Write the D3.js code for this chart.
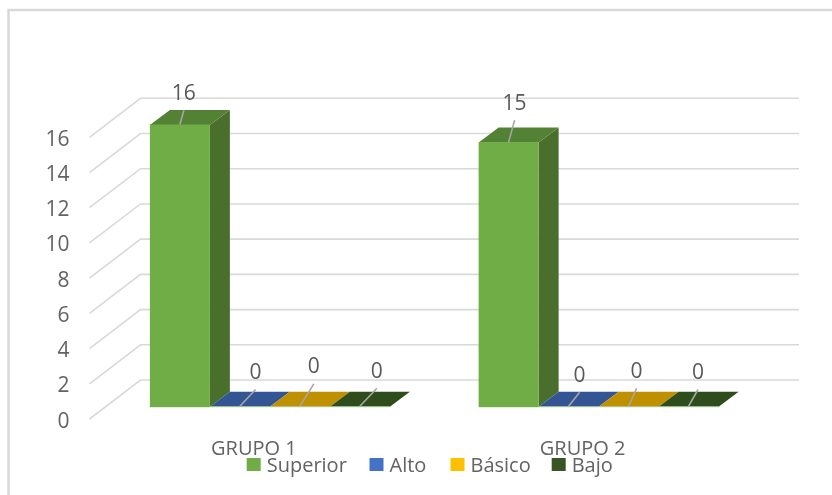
<!DOCTYPE html>
<html>
<head>
<meta charset="utf-8">
<script src="https://cdnjs.cloudflare.com/ajax/libs/d3/7.8.5/d3.min.js"></script>
<style>
  html, body { margin: 0; padding: 0; background: #fff; }
  svg { display: block; filter: blur(0.45px); }
  text { font-family: "Open Sans", sans-serif; }
</style>
</head>
<body>
<div id="chart"></div>
<script>
var categories = ["GRUPO 1", "GRUPO 2"];
var seriesNames = ["Superior", "Alto", "Básico", "Bajo"];
var superior = [16, 15];
var alto = [0, 0];
var basico = [0, 0];
var bajo = [0, 0];
var yTicks = [0, 2, 4, 6, 8, 10, 12, 14, 16];

var seriesValues = [superior, alto, basico, bajo];

// front, top, side colours for each series
var frontColor = ["#70ad47", "#4472c4", "#ffc000", "#375623"];
var topColor = ["#548235", "#335593", "#bf9000", "#2f4d1c"];
var sideColor = ["#4a6e2b", "#2f5290", "#a67d00", "#263f17"];

// where the leader of each data label ends, relative to the bar top (dx, dy)
var leaderEnds = [
  [[4, -14.3], [15.7, -16.7], [14, -22.4], [17, -18]],
  [[6, -22], [11, -14], [8, -18], [9.4, -16.7]]
];

var width = 832, height = 495;
var depthX = 20, depthY = 15;   // bar depth
var wallX = 51, wallY = 38.5;   // from the axis to the back wall
var gridRight = 799;
var frontLeft = 89.5;

var svg = d3.select("#chart").append("svg")
    .attr("width", width)
    .attr("height", height);

// chart frame
svg.append("path")
    .attr("d", "M8.5,495V10H832")
    .attr("fill", "none")
    .attr("stroke", "#d9d9d9")
    .attr("stroke-width", 2.5);

var y = d3.scaleLinear().domain([0, 16]).range([406.7, 125]);
var x0 = d3.scaleBand().domain(categories).range([105.5, 763]);
var x1 = d3.scaleBand().domain(d3.range(seriesNames.length)).range([-120, 120]);

// y position of a tick on the front edge and on the back wall
var tickFront = function(d) { return y(d) + 12.3; };
var tickBack = function(d) { return y(d) - 26.7; };

var grid = svg.append("g")
    .attr("fill", "none")
    .attr("stroke", "#d9d9d9")
    .attr("stroke-width", 1.6);

grid.selectAll("path")
  .data(yTicks)
  .enter().append("path")
    .attr("d", function(d) {
      return "M" + frontLeft + "," + tickFront(d) +
        "L" + (frontLeft + wallX) + "," + tickBack(d) +
        "H" + gridRight;
    });

svg.append("g")
    .attr("fill", "#636363")
    .attr("font-size", 21)
    .attr("text-anchor", "end")
  .selectAll("text")
  .data(yTicks)
  .enter().append("text")
    .attr("x", 69.5)
    .attr("y", function(d) { return tickFront(d) + 1; })
    .attr("dy", "0.36em")
    .text(function(d) { return d; });

// bars
categories.forEach(function(cat, c) {
  var center = x0(cat) + x0.bandwidth() / 2;
  var g = svg.append("g");

  seriesValues.forEach(function(values, s) {
    var left = center + x1(s), right = left + x1.bandwidth();
    var base = y(0), top = y(values[c]);
    var bar = g.append("g");

    if (values[c] > 0) {
      bar.append("path")
          .attr("fill", sideColor[s])
          .attr("d", "M" + right + "," + top + "l" + depthX + "," + (-depthY) +
            "V" + (base - depthY) + "L" + right + "," + base + "Z");
    }
    bar.append("path")
        .attr("fill", topColor[s])
        .attr("d", "M" + left + "," + top + "l" + depthX + "," + (-depthY) +
          "H" + (right + depthX) + "L" + right + "," + top + "Z");
    bar.append("rect")
        .attr("x", left)
        .attr("y", top - 0.5)
        .attr("width", x1.bandwidth())
        .attr("height", Math.max(base - top, 0) + 1)
        .attr("fill", values[c] > 0 ? frontColor[s] : "#a9c98f");
  });
});

// data labels with leaders
var labels = svg.append("g");
categories.forEach(function(cat, c) {
  var center = x0(cat) + x0.bandwidth() / 2;
  seriesValues.forEach(function(values, s) {
    var bx = center + x1(s) + x1.bandwidth() / 2;
    var by = y(values[c]) - 0.5;
    var end = leaderEnds[c][s];
    labels.append("line")
        .attr("x1", bx).attr("y1", by)
        .attr("x2", bx + end[0]).attr("y2", by + end[1])
        .attr("stroke", "#a6a6a6")
        .attr("stroke-width", 1.6);
    labels.append("text")
        .attr("x", bx + end[0])
        .attr("y", by + end[1] - 18)
        .attr("dy", "0.36em")
        .attr("text-anchor", "middle")
        .attr("font-size", 21)
        .attr("fill", "#595959")
        .text(values[c]);
  });
});

// category labels
svg.append("g")
    .attr("fill", "#636363")
    .attr("font-size", 20)
    .attr("text-anchor", "middle")
  .selectAll("text")
  .data(categories)
  .enter().append("text")
    .attr("x", function(d) { return x0(d) + x0.bandwidth() / 2 - 16; })
    .attr("y", 455)
    .text(function(d) { return d; });

// legend
var legendX = [246.7, 369.5, 450.5, 551.7];
var legend = svg.append("g")
  .selectAll("g")
  .data(seriesNames)
  .enter().append("g")
    .attr("transform", function(d, i) { return "translate(" + legendX[i] + ",458)"; });

legend.append("rect")
    .attr("width", 14)
    .attr("height", 13)
    .attr("fill", function(d, i) { return frontColor[i]; });

legend.append("text")
    .attr("x", 20)
    .attr("y", 13.5)
    .attr("font-size", 20)
    .attr("fill", "#636363")
    .text(function(d) { return d; });
</script>
</body>
</html>
